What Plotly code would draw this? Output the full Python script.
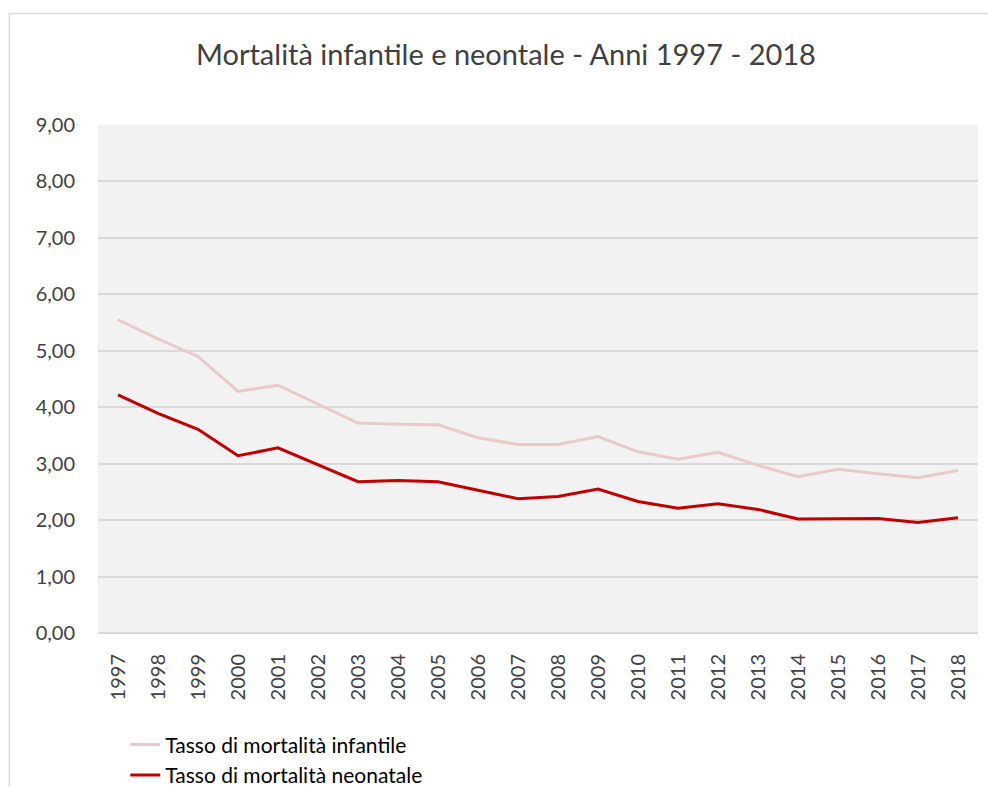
import plotly.graph_objects as go

# anni e tassi (per 1000 nati vivi)
anni = [str(a) for a in range(1997, 2019)]
infantile = [5.55, 5.21, 4.90, 4.28, 4.39, 4.05, 3.72, 3.70, 3.69, 3.46, 3.34,
             3.34, 3.48, 3.21, 3.08, 3.20, 2.97, 2.77, 2.90, 2.82, 2.75, 2.88]
neonatale = [4.22, 3.89, 3.61, 3.14, 3.28, 2.98, 2.68, 2.70, 2.68, 2.53, 2.38,
             2.42, 2.55, 2.33, 2.21, 2.29, 2.19, 2.02, 2.02, 2.03, 1.96, 2.04]

font_main = "Lato, 'Open Sans', sans-serif"
col_text = "#404040"

fig = go.Figure()
fig.add_trace(go.Scatter(x=anni, y=infantile, mode="lines",
                         name="Tasso di mortalità infantile",
                         line=dict(color="#E9CACA", width=3)))
fig.add_trace(go.Scatter(x=anni, y=neonatale, mode="lines",
                         name="Tasso di mortalità neonatale",
                         line=dict(color="#C00000", width=3)))

# cornice esterna dell'area grafico (stile Excel)
fig.add_shape(type="rect", xref="paper", yref="paper",
              x0=-0.1006, x1=1.05, y0=-0.35, y1=1.2195,
              line=dict(color="#D9D9D9", width=1.5), layer="below")

fig.update_layout(
    width=988, height=787,
    margin=dict(l=98, r=10, t=125, b=154, autoexpand=False),
    paper_bgcolor="white",
    plot_bgcolor="#F2F2F2",
    separators=",.",
    font=dict(family=font_main, color=col_text, size=20),
    title=dict(text="Mortalità infantile e neontale - Anni 1997 - 2018",
               x=0.4636, xanchor="center", xref="paper",
               y=1 - 55 / 787, yanchor="middle",
               font=dict(size=29, color=col_text)),
    showlegend=True,
    legend=dict(orientation="v", x=0.031, xanchor="left",
                y=-0.18, yanchor="top",
                font=dict(size=21, color="#000000"),
                bgcolor="rgba(0,0,0,0)", tracegroupgap=0,
                itemwidth=30),
    xaxis=dict(type="category", range=[-0.5, 21.5], tickangle=-90,
               showgrid=False, showline=False, ticks="",
               ticklabelstandoff=16, fixedrange=True),
    yaxis=dict(range=[0, 9], dtick=1, tickformat=".2f",
               showgrid=True, gridcolor="#D9D9D9", gridwidth=1.5,
               zeroline=True, zerolinecolor="#D9D9D9", zerolinewidth=1.5,
               showline=False, ticks="", ticklabelstandoff=22),
)

fig.write_html("out.html", config={"displayModeBar": False},
               post_script="document.body.style.margin='0';document.body.style.overflow='hidden';")
